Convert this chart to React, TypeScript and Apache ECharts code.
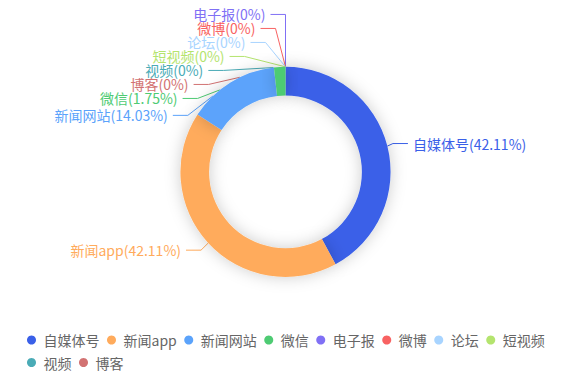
import React, { useEffect, useRef } from "react";
import * as echarts from "echarts";

const categories = ["自媒体号", "新闻app", "新闻网站", "微信", "电子报", "微博", "论坛", "短视频", "视频", "博客"];
const values = [24, 24, 8, 1, 0, 0, 0, 0, 0, 0];
const colors = ["#3a60e8", "#ffab5c", "#5ba3fb", "#4ecb73", "#8070f5", "#f86262", "#a8d4ff", "#b4e46e", "#4aabb6", "#d27272"];

const W = 571;
const H = 382;
const CY_RATIO = 0.45;
const R_IN_RATIO = 0.4;
const R_OUT_RATIO = 0.55;
const LEN = 10.5;
const LEN2 = 15;
const GAP = 5;
const LABEL_H = 14;

type Item = { idx: number; side: number; x: number; y: number; ux: number; uy: number };

function computeLayout(dirs: Record<number, [number, number]>) {
  const cx = W * 0.5;
  const cy = H * CY_RATIO;
  const r = (Math.min(W, H) / 2) * R_OUT_RATIO;
  const items: Item[] = [];
  Object.keys(dirs).forEach((k) => {
    const idx = Number(k);
    const [ux, uy] = dirs[idx];
    const side = ux < 1e-6 ? -1 : 1;
    const x2 = cx + (r + LEN) * ux;
    const y2 = cy + (r + LEN) * uy;
    const x3 = x2 + side * LEN2;
    items.push({ idx, side, x: x3 + side * GAP, y: y2, ux, uy });
  });
  const result: Record<number, any> = {};
  [-1, 1].forEach((side) => {
    const list = items.filter((it) => it.side === side).sort((a, b) => a.y - b.y);
    const n = list.length;
    const viewTop = 0;
    const viewHeight = H;
    const shiftUp = (end: number, delta: number) => {
      for (let j = end; j >= 0; j--) {
        if (list[j].y - delta < viewTop) break;
        list[j].y -= delta;
        if (j > 0 && list[j].y > list[j - 1].y + LABEL_H) break;
      }
    };
    const shiftDown = (start: number, end: number, delta: number) => {
      for (let j = start; j < end; j++) {
        if (list[j].y + delta > viewTop + viewHeight) break;
        list[j].y += delta;
        if (j > start && j + 1 < end && list[j + 1].y > list[j].y + LABEL_H) {
          shiftUp(j, delta / 2);
          return;
        }
      }
      shiftUp(end - 1, delta / 2);
    };
    let lastY = 0;
    for (let i = 0; i < n; i++) {
      const delta = list[i].y - lastY;
      if (delta < 0) shiftDown(i, n, -delta);
      lastY = list[i].y + LABEL_H;
    }
    if (viewHeight - lastY < 0) shiftUp(n - 1, lastY - viewHeight);
    const up = list.filter((it) => it.y < cy);
    const down = list.filter((it) => it.y >= cy);
    const R = r + LEN + LEN2;
    const changeX = (arr: Item[], isDown: boolean) => {
      let last = isDown ? Number.MAX_VALUE : 0;
      arr.forEach((it) => {
        const dy = Math.abs(it.y - cy);
        let dx = dy < r + LEN ? Math.sqrt(R * R - dy * dy) : Math.abs(it.x - cx);
        if (isDown && dx >= last) dx = last - 10;
        if (!isDown && dx <= last) dx = last + 10;
        it.x = cx + dx * side;
        last = dx;
      });
    };
    changeX(up, false);
    changeX(down, true);
    list.forEach((it) => {
      const endX = it.x - side * GAP;
      const bx = endX - side * LEN2;
      const by = it.y;
      const ax = cx + r * it.ux;
      const ay = cy + r * it.uy;
      // the guide line runs beneath the ring: stop it where it meets the outer edge
      const dxs = ax - bx;
      const dys = ay - by;
      const fx = bx - cx;
      const fy = by - cy;
      const a = dxs * dxs + dys * dys;
      const b = 2 * (fx * dxs + fy * dys);
      const c = fx * fx + fy * fy - r * r;
      let px = ax;
      let py = ay;
      const disc = b * b - 4 * a * c;
      if (a > 0 && disc >= 0) {
        const t = (-b - Math.sqrt(disc)) / (2 * a);
        if (t > 0 && t < 1) {
          px = bx + dxs * t;
          py = by + dys * t;
        }
      }
      result[it.idx] = {
        x: it.x,
        y: it.y,
        align: side < 0 ? "right" : "left",
        verticalAlign: "middle",
        labelLinePoints: [
          [px, py],
          [bx, by],
          [endX, it.y],
        ],
      };
    });
  });
  return result;
}

export default function App() {
  const ref = useRef<HTMLDivElement>(null);
  useEffect(() => {
    const chart = echarts.init(ref.current!, undefined, { renderer: "svg" });
    const cx = W * 0.5;
    const cy = H * CY_RATIO;
    const dirs: Record<number, [number, number]> = {};
    chart.setOption({
      animation: false,
      color: colors,
      legend: {
        top: 327.5,
        left: 22,
        right: 10,
        icon: "circle",
        itemWidth: 14,
        itemHeight: 9,
        itemGap: 7.5,
        textStyle: { color: "#666", fontSize: 14, lineHeight: 15, fontFamily: "Noto Sans CJK SC" },
        data: categories,
      },
      series: [
        {
          type: "pie",
          center: ["50%", CY_RATIO * 100 + "%"],
          radius: [R_IN_RATIO * 100 + "%", R_OUT_RATIO * 100 + "%"],
          startAngle: 90,
          itemStyle: { shadowBlur: 16, shadowColor: "rgba(0,0,0,0.2)" },
          label: {
            formatter: "{b}({d}%)",
            fontSize: 14,
            fontFamily: "Noto Sans CJK SC",
            color: "inherit",
          },
          labelLine: { length: LEN, length2: LEN2, lineStyle: { width: 1 } },
          labelLayout: (p: any) => {
            const pts = p.labelLinePoints;
            if (pts && pts[0]) {
              const vx = pts[0][0] - cx;
              const vy = pts[0][1] - cy;
              const d = Math.sqrt(vx * vx + vy * vy) || 1;
              dirs[p.dataIndex] = [vx / d, vy / d];
            }
            return {};
          },
          data: categories.map((c, i) => ({ name: c, value: values[i] })),
        },
      ],
    });
    const layout = computeLayout(dirs);
    chart.setOption({
      series: [
        {
          labelLayout: (p: any) => layout[p.dataIndex] || {},
        },
      ],
    });
    return () => chart.dispose();
  }, []);
  return (
    <div
      ref={ref}
      style={{ position: "absolute", left: 0, top: 0, width: W, height: H }}
    />
  );
}
